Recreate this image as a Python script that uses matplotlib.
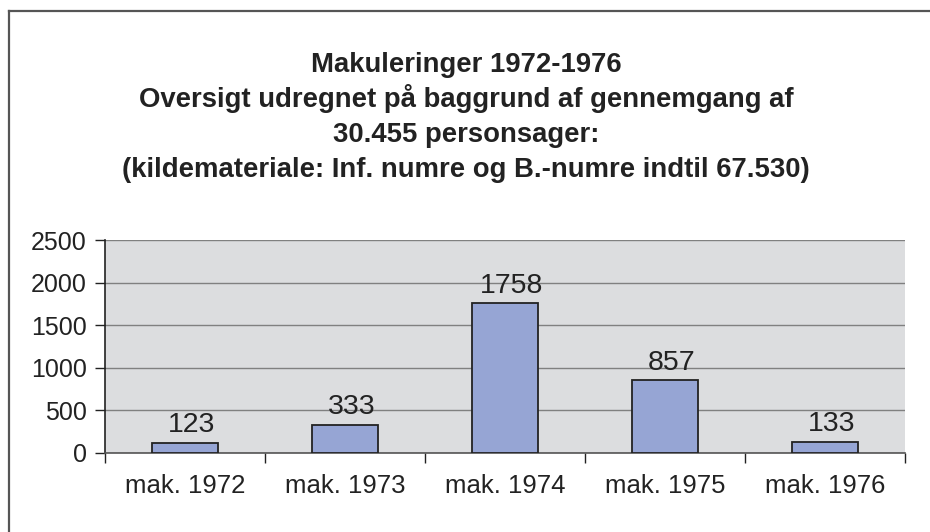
import matplotlib
matplotlib.use("Agg")
from matplotlib import pyplot as plt
from matplotlib.lines import Line2D

categories = ["mak. 1972", "mak. 1973", "mak. 1974", "mak. 1975", "mak. 1976"]
values = [123, 333, 1758, 857, 133]
yticks = [0, 500, 1000, 1500, 2000, 2500]

title_lines = [
    "Makuleringer 1972-1976",
    "Oversigt udregnet på baggrund af gennemgang af",
    "30.455 personsager:",
    "(kildemateriale: Inf. numre og B.-numre indtil 67.530)",
]

plt.rcParams['font.family'] = ['Liberation Sans', 'DejaVu Sans']

W, H = 930, 532
fig = plt.figure(figsize=(W / 100, H / 100), dpi=100)
fig.patch.set_facecolor('white')

# plot area in pixels: left 105, right 905, top 240, bottom 453
ax = fig.add_axes([105 / W, 1 - 453 / H, 800 / W, 213 / H])
ax.set_facecolor('#dcdddf')

x = list(range(len(categories)))
bars = ax.bar(x, values, width=0.41, color='#96a5d4', edgecolor='#222222',
              linewidth=1.3, zorder=3)

for xi, v in zip(x, values):
    ax.text(xi + 0.04, v + 120, str(v), ha='center', va='baseline',
            fontsize=20.5, color='#222222', zorder=4)

ax.set_xlim(-0.5, len(categories) - 0.5)
ax.set_ylim(0, 2500)
ax.set_yticks(yticks)
ax.set_yticklabels([str(t) for t in yticks], fontsize=18, color='#222222')
ax.yaxis.grid(True, color='#808080', linewidth=1.0, zorder=1)
ax.set_axisbelow(True)

# category boundary ticks on x axis
ax.set_xticks([i - 0.5 for i in range(len(categories) + 1)])
ax.set_xticklabels([])
ax.set_xticks(x, minor=True)
ax.set_xticklabels(categories, minor=True, fontsize=18.5, color='#222222')
ax.tick_params(axis='x', which='minor', length=0, pad=15)
ax.tick_params(axis='x', which='major', length=7, width=1, color='#222222',
               direction='out')
ax.tick_params(axis='y', length=7, width=1, color='#222222', pad=6)

for side in ['top', 'right']:
    ax.spines[side].set_visible(False)
ax.spines['left'].set_color('#222222')
ax.spines['left'].set_linewidth(1.2)
ax.spines['bottom'].set_color('#555555')
ax.spines['bottom'].set_linewidth(1.2)

# title block
baselines = [72, 107, 142, 177]
for i, line in enumerate(title_lines):
    fig.text(466 / W, 1 - baselines[i] / H, line, ha='center', va='baseline',
             fontsize=19.8, fontweight='bold', color='#222222')

# outer chart frame (top and left edges visible)
fig.add_artist(Line2D([9 / W, 1], [1 - 11 / H, 1 - 11 / H],
                      transform=fig.transFigure, color='#555555', linewidth=1.6))
fig.add_artist(Line2D([9 / W, 9 / W], [0, 1 - 11 / H],
                      transform=fig.transFigure, color='#555555', linewidth=1.6))

fig.savefig("out.png", dpi=100)
